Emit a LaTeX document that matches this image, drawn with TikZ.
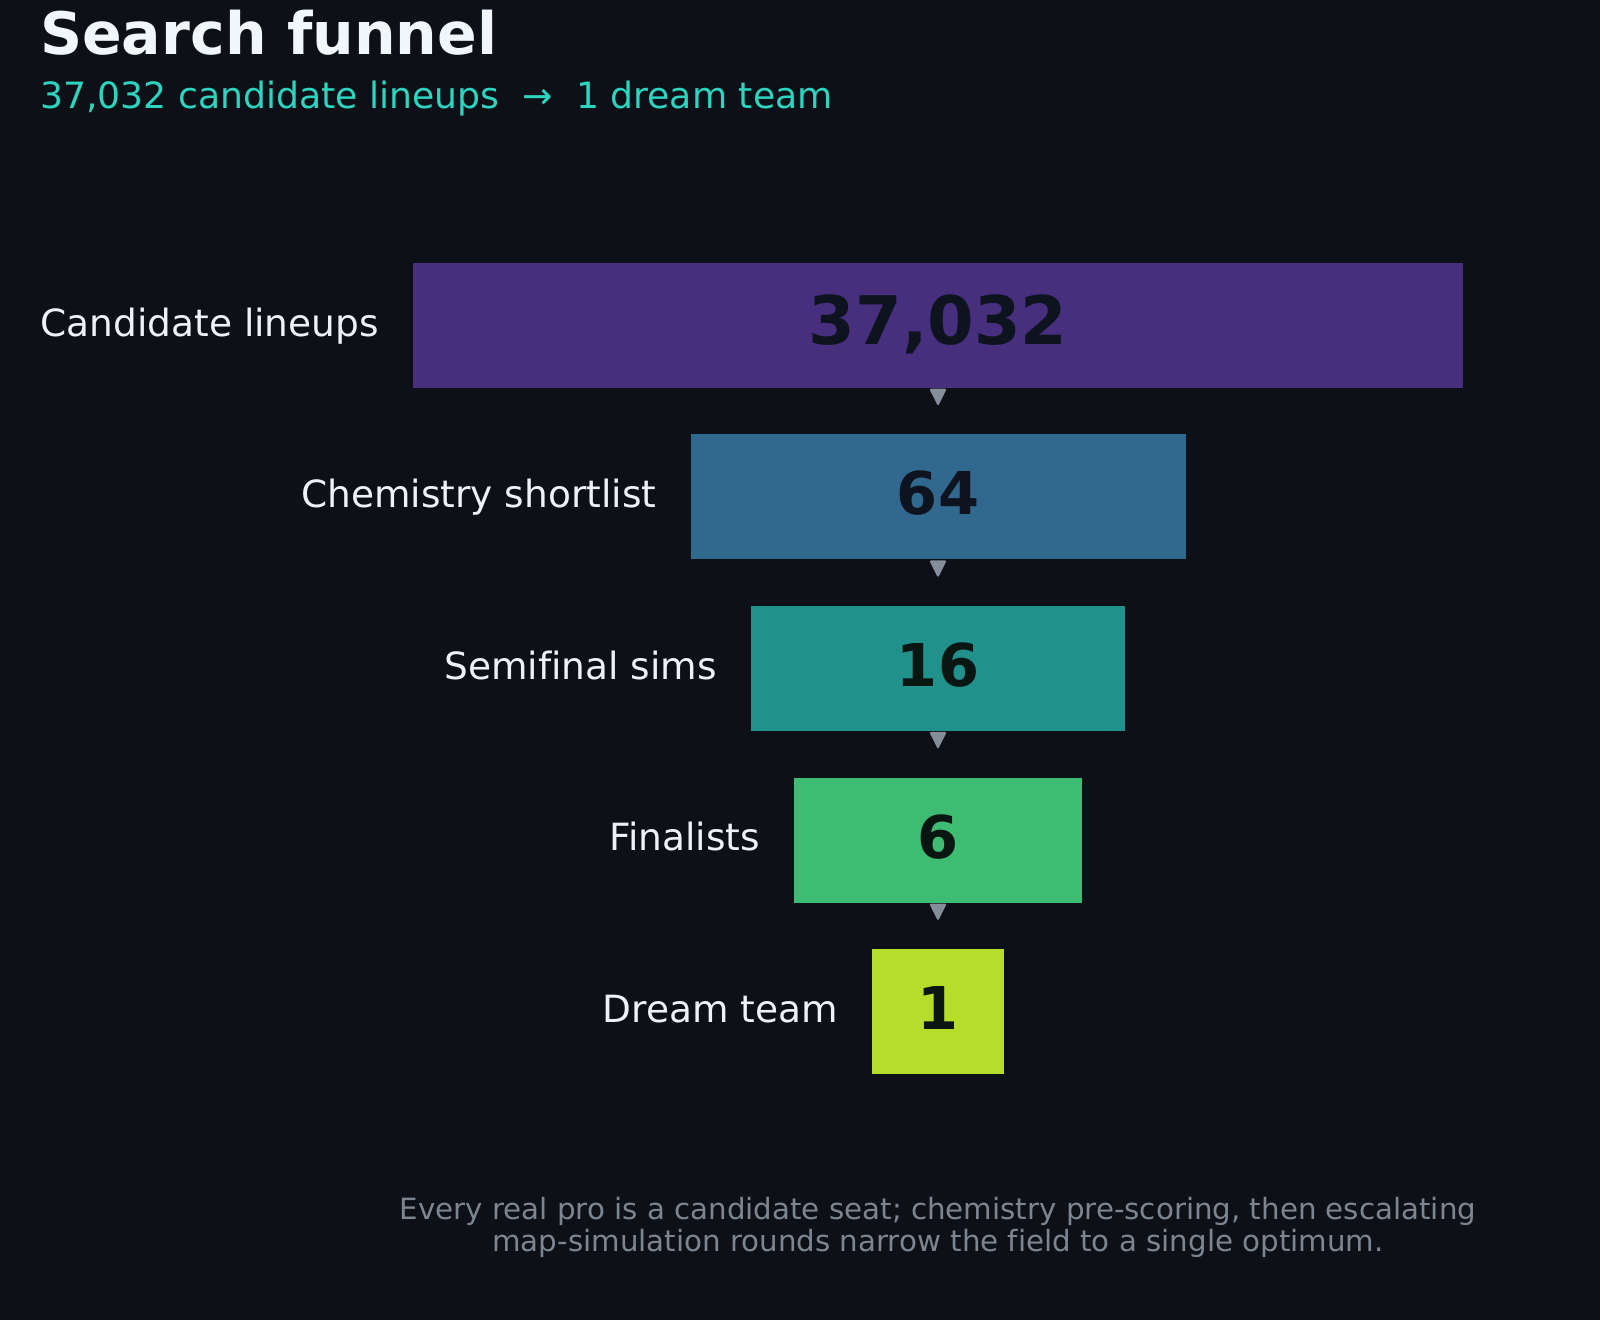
\documentclass[tikz,border=0pt]{standalone}
\usepackage{fontspec}
\setmainfont{DejaVu Sans}[Ligatures=NoCommon]
\definecolor{bg}{HTML}{0D1117}
\definecolor{titlec}{HTML}{F0F6FC}
\definecolor{labelc}{HTML}{EEF2F7}
\definecolor{subc}{HTML}{2DD4BF}
\definecolor{footc}{HTML}{7D8590}
\definecolor{arrowc}{HTML}{858D9A}
\definecolor{cA}{HTML}{472F7D}
\definecolor{cB}{HTML}{31688E}
\definecolor{cC}{HTML}{21918C}
\definecolor{cD}{HTML}{3FBC73}
\definecolor{cE}{HTML}{B5DE2B}
\definecolor{numA}{HTML}{0D1420}
\definecolor{numB}{HTML}{0A1612}
\tikzset{
  barbox/.style={inner sep=0pt, outer sep=0pt, minimum height=125pt},
  stagelabel/.style={inner sep=0pt, anchor=base east, text=labelc, font=\fontsize{37.5}{45}\selectfont},
  bignum/.style={inner sep=0pt, anchor=base, font=\fontsize{59}{68}\selectfont\bfseries},
  arrowtri/.style={fill=arrowc, rounded corners=1.5pt},
}
\begin{document}
\begin{tikzpicture}[x=1pt,y=-1pt]
\fill[bg] (0,0) rectangle (1600,1320);
\useasboundingbox (0,0) rectangle (1600,1320);
% title
\node[inner sep=0pt, anchor=base west, text=titlec, font=\fontsize{58.5}{66}\selectfont\bfseries] (title) at (40,54) {Search funnel};
\node[inner sep=0pt, anchor=base west, text=subc, font=\fontsize{36.2}{42}\selectfont] (subtitle) at (40,108) {37,032 candidate lineups\ \ →\ \ 1 dream team};
% bars
\node[barbox, fill=cA, minimum width=1050pt] (b1) at (938,325.2) {};
\node[barbox, fill=cB, minimum width=495pt] (b2) at (938,496.8) {};
\node[barbox, fill=cC, minimum width=374pt] (b3) at (938,668.4) {};
\node[barbox, fill=cD, minimum width=288pt] (b4) at (938,840.0) {};
\node[barbox, fill=cE, minimum width=132pt] (b5) at (938,1011.6) {};
% numbers
\node[bignum, text=numA, font=\fontsize{67}{76}\selectfont\bfseries] (n1) at ([yshift=-19.5pt]b1.center) {37,032};
\node[bignum, text=numA] (n2) at ([yshift=-18pt]b2.center) {64};
\node[bignum, text=numB] (n3) at ([yshift=-18pt]b3.center) {16};
\node[bignum, text=numB] (n4) at ([yshift=-18pt]b4.center) {6};
\node[bignum, text=numB] (n5) at ([yshift=-18pt]b5.center) {1};
% labels
\node[stagelabel] (l1) at ([xshift=-34pt, yshift=-10.8pt]b1.west) {Candidate lineups};
\node[stagelabel] (l2) at ([xshift=-34pt, yshift=-10.8pt]b2.west) {Chemistry shortlist};
\node[stagelabel] (l3) at ([xshift=-34pt, yshift=-10.8pt]b3.west) {Semifinal sims};
\node[stagelabel] (l4) at ([xshift=-34pt, yshift=-10.8pt]b4.west) {Finalists};
\node[stagelabel] (l5) at ([xshift=-34pt, yshift=-10.8pt]b5.west) {Dream team};
% arrows between stages
\foreach \i in {1,2,3,4}{
  \fill[arrowtri] ([yshift=-1pt]b\i.south) ++(-8.8,0) -- ++(17.6,0) -- ++(-8.8,17.5) -- cycle;
}
% footnote
\node[inner sep=0pt, anchor=base, text=footc, font=\fontsize{29.3}{32}\selectfont] (foot1) at (938,1219.5) {Every real pro is a candidate seat; chemistry pre-scoring, then escalating};
\node[inner sep=0pt, anchor=base, text=footc, font=\fontsize{29.3}{32}\selectfont] (foot2) at (938,1251) {map-simulation rounds narrow the field to a single optimum.};
\end{tikzpicture}
\end{document}
